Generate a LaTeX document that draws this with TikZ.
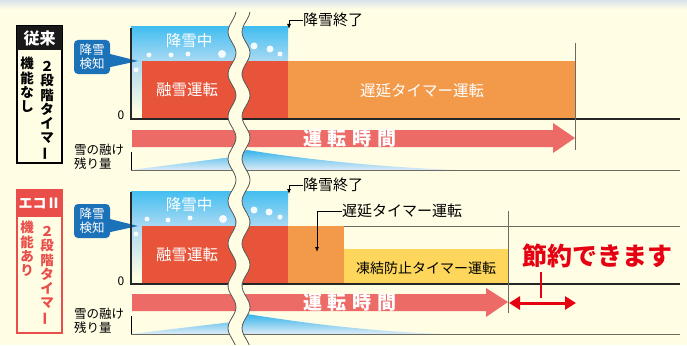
\documentclass[tikz,border=0pt]{standalone}
\usepackage{fontspec}
\setmainfont{Noto Sans CJK JP}
\usetikzlibrary{arrows.meta}

\definecolor{bgc}{HTML}{FFFDE4}
\definecolor{topband}{HTML}{D8E2EA}
\definecolor{snowtop}{HTML}{43BEF0}
\definecolor{snowbot}{HTML}{A9D9F2}
\definecolor{meltred}{HTML}{E8543A}
\definecolor{delayorange}{HTML}{F29A4A}
\definecolor{frostyellow}{HTML}{FDD65B}
\definecolor{timered}{HTML}{EC6B66}
\definecolor{callblue}{HTML}{1C72B8}
\definecolor{savered}{HTML}{E50012}
\definecolor{ecored}{HTML}{E94E4B}
\definecolor{guidegrey}{HTML}{6E6A60}
\definecolor{wavegrey}{HTML}{555555}
\definecolor{meltblue}{HTML}{35B4EA}
\definecolor{meltpale}{HTML}{DDEBF7}

\begin{document}
\begin{tikzpicture}[x=1pt, y=-1pt,
    blocktext/.style={text=white, font=\fontsize{15.5}{15.5}\selectfont, inner sep=0},
    timetext/.style={text=white, font=\bfseries\fontsize{19}{19}\selectfont, inner sep=0},
    note/.style={font=\fontsize{15}{15}\selectfont, inner sep=0},
    remark/.style={font=\fontsize{12.5}{13.5}\selectfont, align=left, inner sep=0, anchor=north west},
    callout/.style={fill=callblue, rounded corners=4pt, text=white, align=center,
        font=\fontsize{12.5}{13.5}\selectfont, minimum width=36, minimum height=34, inner sep=1},
    vert/.style={font=\bfseries\fontsize{13.5}{14.3}\selectfont, align=center, inner sep=0, anchor=north},
    axis/.style={line width=1.3pt, draw=black!85},
    guide/.style={line width=1pt, draw=guidegrey},
    lead/.style={line width=0.8pt, -{Latex[length=5pt,width=4pt]}}]
    \useasboundingbox (0,0) rectangle (687,345);
    \fill[bgc] (0,0) rectangle (687,345);
    \shade[top color=topband, bottom color=bgc] (0,0) rectangle (687,9);

    % ---- conventional ----
    \draw[line width=1.3pt] (17,26) rectangle (62,163);
    \fill[black!90] (17,26) rectangle (62,50);
    \node[text=white, font=\bfseries\fontsize{16}{16}\selectfont] (headA) at (39.5,38) {従来};
    \node[vert] (kindA) at (27,57) {機\\能\\な\\し};
    \node[vert] (stageA) at (47,61) {２\\段\\階\\タ\\イ\\マ\\\rotatebox[origin=c]{90}{ー}};

    \shade[top color=snowtop, bottom color=snowbot] (131,27) rectangle (288,61);
    \shade[top color=snowbot, bottom color=bgc] (131,61) rectangle (142,112);
    \fill[meltred] (142,61) rectangle (288,119);
    \fill[delayorange] (288,61) rectangle (575,119);
    \foreach \dx/\dy/\r in {149/55/2.5, 171/55/2.5, 188/54/2.5, 222/54/4, 254/46/3.5, 270/49/3.5, 280/54/2.5, 136/70/2.5}
        \fill[white, opacity=0.9] (\dx,\dy) circle[radius=\r];

    \node[blocktext] (snowA) at (189,41) {降雪中};
    \node[blocktext] (meltA) at (187,90) {融雪運転};
    \node[blocktext] (delayA) at (422,91) {遅延タイマー運転};

    \fill[callblue] (106,53) -- (138,61) -- (106,68) -- cycle;
    \node[callout] (detectA) at (92,57) {降雪\\検知};

    \draw[axis] (131,28) -- (131,119) -- (680,119);
    \node[font=\fontsize{12}{12}\selectfont, inner sep=0] (zeroA) at (121,115) {0};

    \fill[timered] (132,130) -- (553,130) -- (553,123) -- (575,138) -- (553,153) -- (553,147) -- (132,147) -- cycle;
    \node[timetext] (timeA) at (350,138) {運\hspace{6pt}転\hspace{6pt}時\hspace{6pt}間};
    \draw[guide] (575,43) -- (575,150);

    \shade[top color=meltblue, bottom color=meltpale] (131,170) -- (232,157) -- (247,150) .. controls (310,160) and (380,167) .. (455,170) -- cycle;
    \draw[guide] (131,170) -- (680,170);
    \draw[line width=1pt] (131,152) -- (131,170);
    \node[remark] (remainA) at (74,144) {雪の融け\\残り量};

    \node[note, anchor=west] (fallA) at (303,20) {降雪終了};
    \coordinate (fallendA) at (289,29);
    \draw[lead] (fallA.west) -| (fallendA);

    % ---- eco II ----
    \draw[ecored, line width=1.3pt] (17,190) rectangle (62,333);
    \fill[ecored] (17,190) rectangle (62,217);
    \node[text=white, font=\bfseries\fontsize{14}{14}\selectfont] (headB) at (39.5,203) {エコⅡ};
    \node[vert, text=ecored] (kindB) at (27,221) {機\\能\\あ\\り};
    \node[vert, text=ecored] (stageB) at (47,226) {２\\段\\階\\タ\\イ\\マ\\\rotatebox[origin=c]{90}{ー}};

    \shade[top color=snowtop, bottom color=snowbot] (131,191) rectangle (288,226);
    \shade[top color=snowbot, bottom color=bgc] (131,226) rectangle (142,277);
    \fill[meltred] (142,226) rectangle (288,284);
    \fill[delayorange] (288,226) rectangle (344,284);
    \fill[frostyellow] (344,249) rectangle (508,284);
    \draw[guidegrey, line width=0.8pt] (344,226) -- (680,226);
    \foreach \dx/\dy/\r in {147/219/2.5, 168/220/2.5, 190/218/2.5, 223/219/4, 254/210/3.5, 269/212/3.5, 280/217/2.5, 136/234/2.5}
        \fill[white, opacity=0.9] (\dx,\dy) circle[radius=\r];

    \node[blocktext] (snowB) at (189,205) {降雪中};
    \node[blocktext] (meltB) at (187,255) {融雪運転};
    \node[font=\fontsize{14}{14}\selectfont, inner sep=0] (frostB) at (426,268) {凍結防止タイマー運転};

    \fill[callblue] (106,218) -- (138,226) -- (106,233) -- cycle;
    \node[callout] (detectB) at (92,221) {降雪\\検知};

    \draw[axis] (131,192) -- (131,284) -- (680,284);
    \node[font=\fontsize{12}{12}\selectfont, inner sep=0] (zeroB) at (121,281) {0};

    \fill[timered] (132,294) -- (486,294) -- (486,288) -- (508,302) -- (486,317) -- (486,311) -- (132,311) -- cycle;
    \node[timetext] (timeB) at (350,302) {運\hspace{6pt}転\hspace{6pt}時\hspace{6pt}間};
    \draw[guide] (508,211) -- (508,313);

    \shade[top color=meltblue, bottom color=meltpale] (131,334) -- (232,322) -- (247,314) .. controls (310,324) and (370,331) .. (440,334) -- cycle;
    \draw[guide] (131,334) -- (680,334);
    \draw[line width=1pt] (131,316) -- (131,334);
    \node[remark] (remainB) at (74,308) {雪の融け\\残り量};

    \node[note, anchor=west] (fallB) at (303,185) {降雪終了};
    \coordinate (fallendB) at (289,194);
    \draw[lead] (fallB.west) -| (fallendB);

    \node[note, anchor=west] (delayB) at (342,211) {遅延タイマー運転};
    \coordinate (delaytipB) at (317,252);
    \draw[lead] (delayB.west) -| (delaytipB);

    \node[text=savered, font=\bfseries\fontsize{25}{25}\selectfont, inner sep=0] (saveB) at (597,256) {節約できます};
    \coordinate (saveL) at (541,272);
    \coordinate (saveM) at (541,298);
    \draw[savered, line width=1.2pt] (saveL) -- (saveM);
    \coordinate (saveS) at (509,303);
    \coordinate (saveE) at (576,303);
    \draw[savered, line width=3pt, {Triangle[length=11pt,width=13pt]}-{Triangle[length=11pt,width=13pt]}] (saveS) -- (saveE);

    % ---- break ----
    \fill[bgc] plot[domain=12:345, samples=100, smooth] ({232+4*sin(\x*8.5)},\x)
        -- plot[domain=345:12, samples=100, smooth] ({246+4*sin(\x*8.5)},\x) -- cycle;
    \draw[wavegrey, line width=0.8pt] plot[domain=12:345, samples=100, smooth] ({232+4*sin(\x*8.5)},\x);
    \draw[wavegrey, line width=0.8pt] plot[domain=12:345, samples=100, smooth] ({246+4*sin(\x*8.5)},\x);
\end{tikzpicture}
\end{document}
